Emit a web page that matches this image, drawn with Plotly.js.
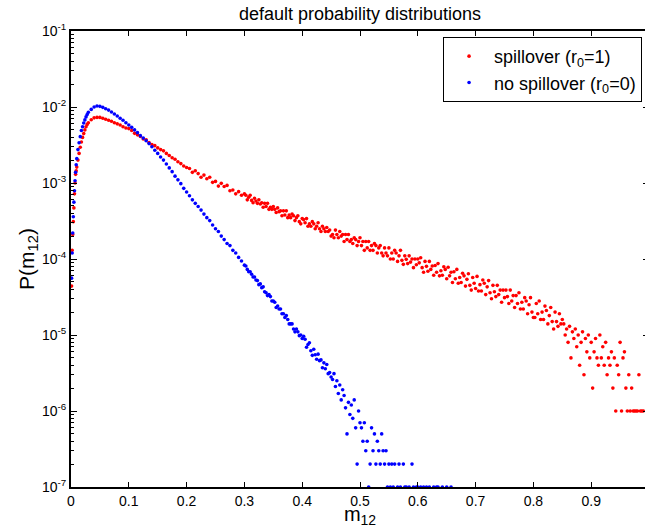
<!DOCTYPE html>
<html>
<head>
<meta charset="utf-8">
<script src="https://cdn.plot.ly/plotly-3.0.1.min.js"></script>
<style>
html,body{margin:0;padding:0;overflow:hidden;background:#fff;width:645px;height:528px;}
#chart{width:660px;height:528px;}
</style>
</head>
<body>
<div id="chart"></div>
<script>
// m12 grid (shared by both series)
const m12 = [
0.001,0.002,0.003,0.004,0.005,0.006,0.007,0.008,0.009,0.01,
0.012,0.014,0.016,0.018,0.02,0.022,0.024,0.026,0.028,0.03,
0.035,0.04,0.045,0.05,0.055,0.06,0.065,0.07,0.075,0.08,
0.085,0.09,0.095,0.1,0.105,0.11,0.115,0.12,0.125,0.13,
0.135,0.14,0.145,0.15,0.155,0.16,0.165,0.17,0.175,0.18,
0.185,0.19,0.195,0.2,
0.205,0.21,0.215,0.22,0.225,0.23,0.235,0.24,0.245,0.25,
0.255,0.26,0.265,0.27,0.275,0.28,0.285,0.29,0.295,0.3,
0.3025,0.305,0.3075,0.31,0.3125,0.315,0.3175,0.32,0.3225,0.325,0.3275,0.33,0.3325,0.335,0.3375,0.34,0.3425,0.345,0.3475,0.35,
0.3525,0.355,0.3575,0.36,0.3625,0.365,0.3675,0.37,0.3725,0.375,0.3775,0.38,0.3825,0.385,0.3875,0.39,0.3925,0.395,0.3975,0.4,
0.4025,0.405,0.4075,0.41,0.4125,0.415,0.4175,0.42,0.4225,0.425,0.4275,0.43,0.4325,0.435,0.4375,0.44,0.4425,0.445,0.4475,0.45,
0.4525,0.455,0.4575,0.46,0.4625,0.465,0.4675,0.47,0.4725,0.475,0.4775,0.48,0.4825,0.485,0.4875,0.49,0.4925,0.495,0.4975,0.5,
0.5025,0.505,0.5075,0.51,0.5125,0.515,0.5175,0.52,0.5225,0.525,0.5275,0.53,0.5325,0.535,0.5375,0.54,0.5425,0.545,0.5475,0.55,
0.5525,0.555,0.5575,0.56,0.5625,0.565,0.5675,0.57,0.5725,0.575,0.5775,0.58,0.5825,0.585,0.5875,0.59,0.5925,0.595,0.5975,0.6,
0.6025,0.605,0.6075,0.61,0.6125,0.615,0.6175,0.62,0.6225,0.625,0.6275,0.63,0.6325,0.635,0.6375,0.64,0.6425,0.645,0.6475,0.65,
0.6525,0.655,0.6575,0.66,0.6625,0.665,0.6675,0.67,0.6725,0.675,0.6775,0.68,0.6825,0.685,0.6875,0.69,0.6925,0.695,0.6975,0.7,
0.7025,0.705,0.7075,0.71,0.7125,0.715,0.7175,0.72,0.7225,0.725,0.7275,0.73,0.7325,0.735,0.7375,0.74,0.7425,0.745,0.7475,0.75,
0.7525,0.755,0.7575,0.76,0.7625,0.765,0.7675,0.77,0.7725,0.775,0.7775,0.78,0.7825,0.785,0.7875,0.79,0.7925,0.795,0.7975,0.8,
0.8025,0.805,0.8075,0.81,0.8125,0.815,0.8175,0.82,0.8225,0.825,0.8275,0.83,0.8325,0.835,0.8375,0.84,0.8425,0.845,0.8475,0.85,
0.8525,0.855,0.8575,0.86,0.8625,0.865,0.8675,0.87,0.8725,0.875,0.8775,0.88,0.8825,0.885,0.8875,0.89,0.8925,0.895,0.8975,0.9,
0.9025,0.905,0.9075,0.91,0.9125,0.915,0.9175,0.92,0.9225,0.925,0.9275,0.93,0.9325,0.935,0.9375,0.94,0.9425,0.945,0.9475,0.95,
0.9525,0.955,0.9575,0.96,0.9625,0.965,0.9675,0.97,0.9725,0.975,0.9775,0.98,0.9825,0.985,0.9875,0.99
];

// spillover (r0=1)
const pSpillover = [
4.4e-5,1.3e-4,2.1e-4,3.1e-4,4.7e-4,7.2e-4,1.0e-3,1.3e-3,1.45e-3,1.62e-3,
2.0e-3,2.45e-3,2.95e-3,3.47e-3,3.98e-3,4.47e-3,5.0e-3,5.5e-3,5.9e-3,6.2e-3,
6.8e-3,7.2e-3,7.3e-3,7.3e-3,7.1e-3,6.9e-3,6.7e-3,6.5e-3,6.2e-3,6.0e-3,
5.8e-3,5.5e-3,5.3e-3,5.2e-3,4.9e-3,4.5e-3,4.3e-3,4.1e-3,3.8e-3,3.7e-3,
3.4e-3,3.2e-3,3.1e-3,2.9e-3,2.75e-3,2.65e-3,2.45e-3,2.3e-3,2.15e-3,2.05e-3,
1.9e-3,1.8e-3,1.67e-3,1.6e-3,
1.55e-3,1.38e-3,1.45e-3,1.33e-3,1.19e-3,1.27e-3,1.14e-3,1.19e-3,1.02e-3,1.05e-3,
9.1e-4,9.9e-4,9.0e-4,9.3e-4,7.9e-4,8.1e-4,7.2e-4,7.7e-4,6.9e-4,7.2e-4,
6.9e-4,6.0e-4,6.5e-4,6.9e-4,5.9e-4,5.5e-4,6.3e-4,5.8e-4,5.4e-4,6.0e-4,5.3e-4,5.5e-4,4.8e-4,5.4e-4,4.9e-4,5.4e-4,4.5e-4,4.8e-4,4.5e-4,4.9e-4,
4.5e-4,4.1e-4,4.7e-4,4.2e-4,4.3e-4,3.7e-4,4.3e-4,3.8e-4,4.3e-4,3.5e-4,3.8e-4,3.5e-4,3.9e-4,3.7e-4,3.2e-4,3.5e-4,3.7e-4,3.1e-4,2.9e-4,3.4e-4,
3.3e-4,3.0e-4,3.4e-4,2.7e-4,2.9e-4,2.7e-4,3.1e-4,2.9e-4,2.5e-4,2.7e-4,3.0e-4,2.5e-4,2.3e-4,2.7e-4,2.5e-4,2.3e-4,2.6e-4,2.3e-4,2.4e-4,2.0e-4,
2.1e-4,1.9e-4,2.4e-4,2.1e-4,1.9e-4,2.3e-4,2.0e-4,2.1e-4,1.7e-4,2.1e-4,1.8e-4,2.1e-4,1.7e-4,1.8e-4,1.6e-4,1.9e-4,1.8e-4,1.5e-4,1.7e-4,1.9e-4,
1.5e-4,1.7e-4,1.3e-4,1.7e-4,1.4e-4,1.7e-4,1.3e-4,1.5e-4,1.3e-4,1.6e-4,1.5e-4,1.2e-4,1.4e-4,1.5e-4,1.2e-4,1.1e-4,1.4e-4,1.2e-4,1.1e-4,1.4e-4,
1.0e-4,1.2e-4,1.0e-4,1.3e-4,1.2e-4,9.3e-5,1.1e-4,1.3e-4,9.6e-5,8.5e-5,1.1e-4,9.9e-5,8.7e-5,1.1e-4,9.1e-5,1.0e-4,7.7e-5,1.0e-4,8.4e-5,1.0e-4,
8.9e-5,1.04e-4,7.7e-5,6.7e-5,9.3e-5,8.0e-5,6.9e-5,9.3e-5,7.3e-5,8.1e-5,6.1e-5,8.2e-5,6.7e-5,8.7e-5,6.0e-5,7.0e-5,6.1e-5,7.9e-5,7.3e-5,5.5e-5,
7.8e-5,6.0e-5,6.7e-5,4.9e-5,6.8e-5,5.5e-5,7.3e-5,4.8e-5,5.7e-5,4.9e-5,6.5e-5,6.0e-5,4.4e-5,5.4e-5,6.4e-5,4.5e-5,3.9e-5,5.7e-5,4.8e-5,4.1e-5,
5.9e-5,3.8e-5,4.6e-5,3.8e-5,5.3e-5,4.8e-5,3.4e-5,4.3e-5,5.2e-5,3.6e-5,3.0e-5,4.5e-5,3.7e-5,3.2e-5,4.5e-5,3.4e-5,3.9e-5,2.7e-5,3.9e-5,3.1e-5,
3.9e-5,3.2e-5,2.6e-5,3.9e-5,2.8e-5,3.3e-5,2.3e-5,3.3e-5,2.6e-5,3.6e-5,2.2e-5,2.7e-5,2.2e-5,3.1e-5,2.8e-5,1.9e-5,2.5e-5,3.1e-5,2.0e-5,1.7e-5,
1.7e-5,2.6e-5,1.9e-5,2.8e-5,1.6e-5,2.0e-5,1.6e-5,2.4e-5,2.1e-5,1.4e-5,1.8e-5,2.3e-5,1.5e-5,1.2e-5,2.0e-5,1.5e-5,1.3e-5,1.9e-5,1.4e-5,1.6e-5,
14e-6,10e-6,12e-6,8e-6,13e-6,5e-6,11e-6,9e-6,12e-6,7e-6,10e-6,4e-6,8e-6,11e-6,3e-6,9e-6,6e-6,10e-6,5e-6,8e-6,
2e-6,6e-6,9e-6,5e-6,4e-6,10e-6,5e-6,7e-6,4e-6,8e-6,3e-6,5e-6,4e-6,6e-6,2e-6,5e-6,1e-6,4e-6,3e-6,8e-6,
1e-6,5e-6,6e-6,2e-6,1e-6,3e-6,1e-6,2e-6,1e-6,1e-6,1e-6,1e-6,3e-6,1e-6,1e-6,1e-6
];

// no spillover (r0=0)
const pNoSpillover = [
5.6e-5,1.2e-4,2.2e-4,3.6e-4,5.6e-4,7.9e-4,1.07e-3,1.38e-3,1.74e-3,2.09e-3,
2.75e-3,3.39e-3,4.07e-3,4.9e-3,5.5e-3,6.17e-3,6.76e-3,7.41e-3,7.94e-3,8.51e-3,
9.3e-3,1.0e-2,1.03e-2,1.02e-2,9.9e-3,9.5e-3,9.1e-3,8.6e-3,8.1e-3,7.6e-3,
7.1e-3,6.7e-3,6.2e-3,5.8e-3,5.4e-3,5.0e-3,4.6e-3,4.2e-3,3.9e-3,3.6e-3,
3.3e-3,3.0e-3,2.7e-3,2.45e-3,2.2e-3,2.0e-3,1.78e-3,1.58e-3,1.41e-3,1.23e-3,
1.1e-3,9.8e-4,8.5e-4,7.6e-4,
6.8e-4,6.0e-4,5.4e-4,4.9e-4,4.4e-4,3.9e-4,3.5e-4,3.2e-4,2.8e-4,2.5e-4,
2.3e-4,2.0e-4,1.8e-4,1.6e-4,1.5e-4,1.3e-4,1.2e-4,1.05e-4,9.4e-5,8.3e-5,
8.1e-5,7.3e-5,6.8e-5,6.8e-5,6.3e-5,5.8e-5,5.8e-5,5.3e-5,5.2e-5,4.6e-5,4.7e-5,4.2e-5,4.3e-5,3.7e-5,3.6e-5,3.3e-5,3.4e-5,3.2e-5,2.8e-5,2.8e-5,
2.7e-5,2.3e-5,2.4e-5,2.2e-5,2.2e-5,1.9e-5,1.9e-5,1.7e-5,1.8e-5,1.6e-5,1.4e-5,1.4e-5,1.4e-5,1.2e-5,1.1e-5,1.2e-5,1.1e-5,9.8e-6,1.0e-5,9.0e-6,
96e-7,88e-7,69e-7,75e-7,79e-7,62e-7,54e-7,65e-7,55e-7,48e-7,56e-7,46e-7,47e-7,37e-7,43e-7,36e-7,41e-7,31e-7,32e-7,28e-7,
26e-7,31e-7,21e-7,25e-7,17e-7,22e-7,14e-7,19e-7,16e-7,11e-7,5e-7,13e-7,9e-7,12e-7,8e-7,14e-7,6e-7,2e-7,10e-7,7e-7,
6e-7,4e-7,7e-7,3e-7,4e-7,1e-7,2e-7,6e-7,3e-7,5e-7,2e-7,4e-7,3e-7,2e-7,5e-7,3e-7,2e-7,3e-7,1e-7,2e-7,
1e-7,2e-7,1e-7,2e-7,null,1e-7,2e-7,1e-7,null,2e-7,1e-7,1e-7,null,1e-7,null,2e-7,1e-7,null,1e-7,1e-7,
null,1e-7,null,1e-7,null,1e-7,null,1e-7,null,null,1e-7,null,1e-7,1e-7,null,null,1e-7,null,null,1e-7,
null,null,1e-7
];

const seriesNames = ['spillover (r<sub>0</sub>=1)', 'no spillover (r<sub>0</sub>=0)'];
const xTickVals = [0,0.1,0.2,0.3,0.4,0.5,0.6,0.7,0.8,0.9];
const xTickText = ['0','0.1','0.2','0.3','0.4','0.5','0.6','0.7','0.8','0.9'];
const yTickVals = [1e-7,1e-6,1e-5,1e-4,1e-3,1e-2,1e-1];
const yTickText = ['10<sup>-7</sup>','10<sup>-6</sup>','10<sup>-5</sup>','10<sup>-4</sup>','10<sup>-3</sup>','10<sup>-2</sup>','10<sup>-1</sup>'];
const yMinorVals = [
2e-7,3e-7,4e-7,5e-7,6e-7,7e-7,8e-7,9e-7,
2e-6,3e-6,4e-6,5e-6,6e-6,7e-6,8e-6,9e-6,
2e-5,3e-5,4e-5,5e-5,6e-5,7e-5,8e-5,9e-5,
2e-4,3e-4,4e-4,5e-4,6e-4,7e-4,8e-4,9e-4,
2e-3,3e-3,4e-3,5e-3,6e-3,7e-3,8e-3,9e-3,
2e-2,3e-2,4e-2,5e-2,6e-2,7e-2,8e-2,9e-2
];

const FONT = 'Liberation Sans, Arial, Helvetica, sans-serif';

const traces = [
  {x: m12, y: pSpillover, name: seriesNames[0], type: 'scatter', mode: 'markers',
   marker: {color: '#ff0000', size: 3.6}, cliponaxis: false},
  {x: m12, y: pNoSpillover, name: seriesNames[1], type: 'scatter', mode: 'markers',
   marker: {color: '#0000ff', size: 3.6}, cliponaxis: false}
];

const layout = {
  width: 660, height: 528, autosize: false,
  margin: {l: 71, r: 11, t: 31, b: 41, pad: 0},
  paper_bgcolor: '#ffffff', plot_bgcolor: '#ffffff',
  font: {family: FONT, color: '#000000', size: 14},
  title: {text: 'default probability distributions', font: {family: FONT, size: 18, color: '#000'},
          x: 0.5, xref: 'paper', xanchor: 'center', y: 1 - 14/528, yref: 'container', yanchor: 'middle'},
  showlegend: true,
  legend: {x: 0.988, xanchor: 'right', y: 0.987, yanchor: 'top',
           bordercolor: '#000', borderwidth: 1, bgcolor: '#fff', itemwidth: 40,
           font: {family: FONT, size: 18, color: '#000'}, itemsizing: 'trace'},
  xaxis: {range: [0, 1], tickmode: 'array', tickvals: xTickVals, ticktext: xTickText,
          showline: true, linecolor: '#000', linewidth: 2, mirror: 'ticks',
          ticks: 'inside', ticklen: 5, tickwidth: 1, tickcolor: '#000',
          showgrid: false, zeroline: false, automargin: false,
          tickfont: {family: FONT, size: 14, color: '#000'},
          title: {text: 'm<sub>12</sub>', font: {family: FONT, size: 20, color: '#000'}, standoff: 3}},
  yaxis: {type: 'log', range: [-7, -1], tickmode: 'array', tickvals: yTickVals, ticktext: yTickText,
          showline: true, linecolor: '#000', linewidth: 2, mirror: 'ticks',
          ticks: 'inside', ticklen: 6, tickwidth: 1, tickcolor: '#000',
          minor: {tickmode: 'array', tickvals: yMinorVals, ticks: 'inside', ticklen: 3, tickwidth: 1, tickcolor: '#000', showgrid: false},
          showgrid: false, zeroline: false, automargin: false,
          tickfont: {family: FONT, size: 14, color: '#000'},
          title: {text: 'P(m<sub>12</sub>)', font: {family: FONT, size: 21, color: '#000'}, standoff: 2}}
};

Plotly.newPlot('chart', traces, layout, {displayModeBar: false, staticPlot: true});
</script>
</body>
</html>
